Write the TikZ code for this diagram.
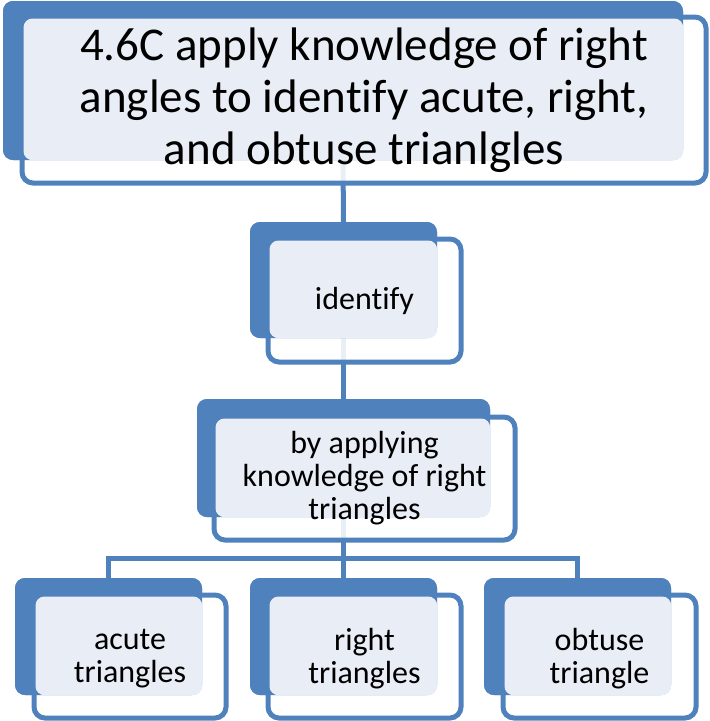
\documentclass[tikz,border=0pt]{standalone}
\usepackage{fontspec}
\setmainfont[Ligatures=NoCommon]{Carlito}
\definecolor{accent}{HTML}{4F81BD}
\definecolor{pale}{HTML}{E9EEF6}
\tikzset{
  backbox/.style={rectangle, rounded corners=10pt, fill=accent, draw=none, inner sep=0pt},
  frontbox/.style={rectangle, rounded corners=11pt, draw=accent, line width=5pt,
                   fill=white, fill opacity=0.88, inner sep=0pt},
  lightbox/.style={fill=pale, rounded corners=9pt},
  link/.style={draw=accent, line width=5pt},
  bigtext/.style={align=center, font=\fontsize{47}{52}\selectfont, inner sep=0pt},
  smalltext/.style={align=center, font=\fontsize{32}{33}\selectfont, inner sep=0pt},
}
\begin{document}
\begin{tikzpicture}[x=1pt,y=-1pt]
\useasboundingbox (0,0) rectangle (710,721);

% back (solid) boxes, used as connector anchors
\node[backbox, minimum width=680pt, minimum height=159pt] (goalB) at (343,80.5) {};
\node[backbox, minimum width=187pt, minimum height=116pt] (idB) at (343.5,280) {};
\node[backbox, minimum width=293pt, minimum height=118pt] (appB) at (343.5,458) {};
\node[backbox, minimum width=187pt, minimum height=117pt] (acuteB) at (108.5,636.5) {};
\node[backbox, minimum width=187pt, minimum height=117pt] (rightB) at (343.5,636.5) {};
\node[backbox, minimum width=187pt, minimum height=117pt] (obtuseB) at (577.5,636.5) {};

% connectors (behind all boxes)
\coordinate (bus) at (343.5,558);
\path[link] (goalB.south) -- (idB.north);
\path[link] (idB.south) -- (appB.north);
\path[link] (appB.south) -- (bus) -| (acuteB.north);
\path[link] (bus) -- (rightB.north);
\path[link] (bus) -| (obtuseB.north);

% outlined front boxes
\node[frontbox, minimum width=684pt, minimum height=166pt] (goalF) at (364,100) {};
\node[frontbox, minimum width=193pt, minimum height=123pt] (idF) at (364.5,300.5) {};
\node[frontbox, minimum width=301pt, minimum height=123pt] (appF) at (364.5,478.5) {};
\node[frontbox, minimum width=192pt, minimum height=123pt] (acuteF) at (130,656.5) {};
\node[frontbox, minimum width=193pt, minimum height=123pt] (rightF) at (364.5,656.5) {};
\node[frontbox, minimum width=193pt, minimum height=123pt] (obtuseF) at (599.5,656.5) {};

% solid boxes again on top of the outlines
\foreach \n/\c/\w/\h in {goalB/{343,80.5}/680/159, idB/{343.5,280}/187/116,
    appB/{343.5,458}/293/118, acuteB/{108.5,636.5}/187/117,
    rightB/{343.5,636.5}/187/117, obtuseB/{577.5,636.5}/187/117}
  \node[backbox, minimum width=\w pt, minimum height=\h pt] at (\c) {};

% pale text panels where the two boxes overlap
\foreach \f/\b in {goalF/goalB, idF/idB, appF/appB, acuteF/acuteB, rightF/rightB, obtuseF/obtuseB}
  \fill[lightbox] ([shift={(4,4)}]\f.north west) rectangle (\b.south east);

% texts
\node[bigtext] (goalT) at (364,100) {4.6C apply knowledge of right\\angles to identify acute, right,\\and obtuse trianlgles};
\node[smalltext] (idT) at (idF.center) {identify};
\node[smalltext] (appT) at (appF.center) {by applying\\knowledge of right\\triangles};
\node[smalltext] (acuteT) at ([yshift=-2pt]acuteF.center) {acute\\triangles};
\node[smalltext] (rightT) at ([yshift=-2pt]rightF.center) {right\\triangles};
\node[smalltext] (obtuseT) at ([yshift=-2pt]obtuseF.center) {obtuse\\triangle};
\end{tikzpicture}
\end{document}
